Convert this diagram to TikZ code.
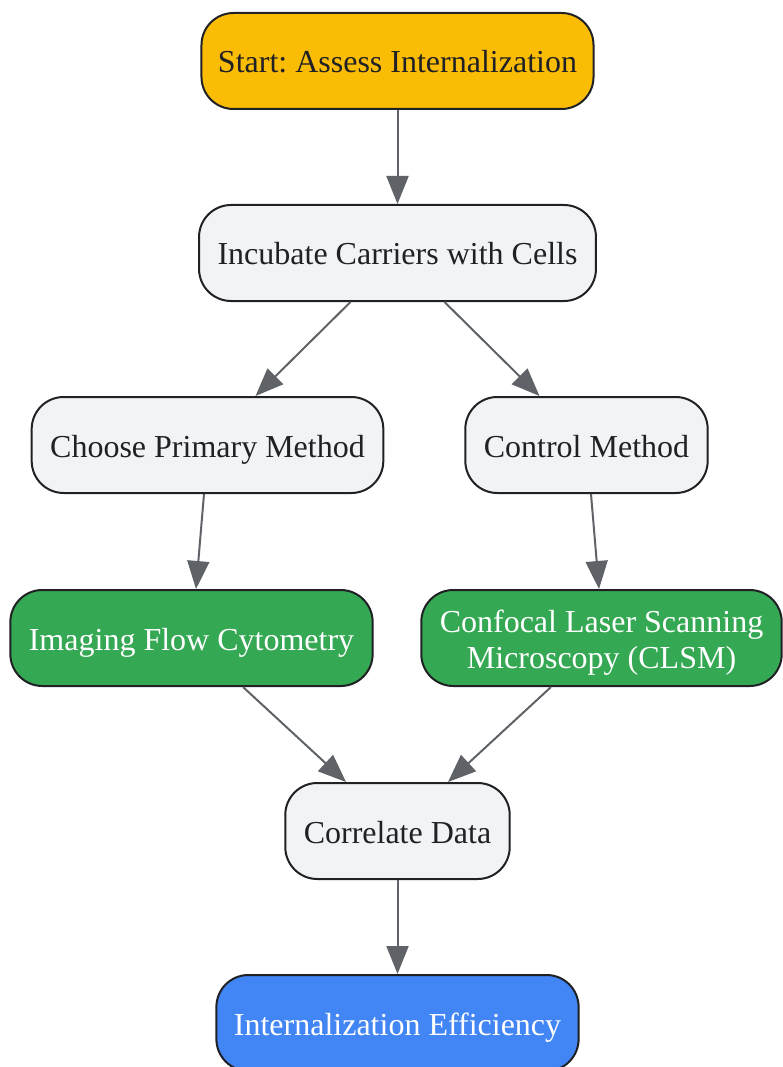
\documentclass[tikz,border=0pt]{standalone}
\usepackage{fontspec}
\setmainfont{Liberation Serif}
\usetikzlibrary{arrows.meta}
\definecolor{startyellow}{HTML}{FBBC05}
\definecolor{stepgray}{HTML}{F1F3F4}
\definecolor{methodgreen}{HTML}{34A853}
\definecolor{endblue}{HTML}{4285F4}
\definecolor{edgegray}{HTML}{5F6368}
\definecolor{inkdark}{HTML}{202124}
\frenchspacing
\begin{document}
\begin{tikzpicture}[x=1pt,y=-1pt,line join=round,
	box/.style={draw=inkdark,line width=2pt,rounded corners=32pt,minimum height=96pt,inner xsep=18.5pt,
		text height=24pt,text depth=0pt,
		align=center,font=\fontsize{32}{36}\selectfont,text=inkdark},
	graybox/.style={box,fill=stepgray},
	greenbox/.style={box,fill=methodgreen,text=white},
	arr/.style={draw=edgegray,line width=2pt,-{Triangle[length=28pt,width=22pt]},color=edgegray}]
	\useasboundingbox (0,0) rectangle (782,1067);
	\node[box,fill=startyellow,inner xsep=16.5pt] (start) at (397.5,61) {Start: Assess Internalization};
	\node[graybox] (incubate) at (397.5,253) {Incubate Carriers with Cells};
	\node[graybox] (primary) at (207.5,445) {Choose Primary Method};
	\node[graybox] (control) at (586.5,445) {Control Method};
	\node[greenbox] (ifc) at (191.5,638) {Imaging Flow Cytometry};
	\node[greenbox,text height=60pt] (clsm) at (601.5,638) {Confocal Laser Scanning\\Microscopy (CLSM)};
	\node[graybox] (correlate) at (397.5,831) {Correlate Data};
	\node[box,fill=endblue,text=white,inner xsep=17.5pt] (result) at (397.5,1023) {Internalization Efficiency};
	% edges
	\draw[arr] (start) -- (incubate);
	\draw[arr] ([xshift=-47pt]incubate.south) -- ([xshift=48pt]primary.north);
	\draw[arr] ([xshift=47pt]incubate.south) -- ([xshift=-47pt]control.north);
	\draw[arr] ([xshift=-3.5pt]primary.south) -- ([xshift=4.5pt]ifc.north);
	\draw[arr] ([xshift=4.5pt]control.south) -- ([xshift=-2.5pt]clsm.north);
	\draw[arr] ([xshift=51.5pt]ifc.south) -- ([xshift=-51.5pt]correlate.north);
	\draw[arr] ([xshift=-50.5pt]clsm.south) -- ([xshift=50.5pt]correlate.north);
	\draw[arr] (correlate) -- (result);
\end{tikzpicture}
\end{document}
